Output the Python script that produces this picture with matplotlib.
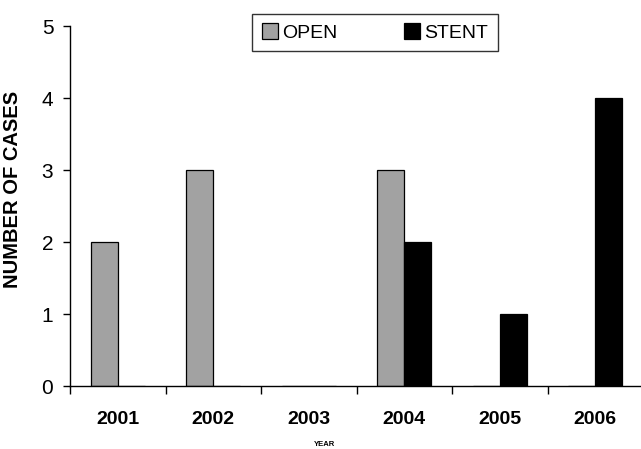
import numpy as np
import matplotlib.pyplot as plt

plt.rcParams['font.family'] = ['Liberation Sans', 'DejaVu Sans']

years = ['2001', '2002', '2003', '2004', '2005', '2006']
open_cases = [2, 3, 0, 3, 0, 0]
stent_cases = [0, 0, 0, 2, 1, 4]

fig = plt.figure(figsize=(6.41, 4.49), dpi=100)
# last category runs right up to the figure edge
ax = fig.add_axes([70 / 641, 63 / 449, 573 / 641, 360 / 449])

x = np.arange(len(years))
w = 0.285
ax.bar(x - w / 2, open_cases, w, color='#a2a2a2', edgecolor='black', linewidth=0.9, label='OPEN')
ax.bar(x + w / 2, stent_cases, w, color='black', edgecolor='black', linewidth=0.9, label='STENT')

ax.set_xlim(-0.5, len(years) - 0.5)
ax.set_ylim(0, 5)
ax.set_yticks(range(6))
ax.tick_params(axis='y', labelsize=15, length=5, width=1, pad=7)

ax.set_xticks(x)
ax.set_xticklabels(years, fontweight='bold', fontsize=14)
ax.set_xticks(np.arange(-0.5, len(years)), minor=True)
ax.tick_params(axis='x', which='major', length=0, pad=18)
ax.tick_params(axis='x', which='minor', length=6, width=1)

for side in ['top', 'right']:
    ax.spines[side].set_visible(False)
ax.spines['left'].set_linewidth(1)
ax.spines['bottom'].set_linewidth(1)

ax.set_ylabel('NUMBER OF CASES', fontweight='bold', fontsize=14.5)
ax.yaxis.set_label_coords(-0.084, 0.545)
fig.text(325 / 641, 1 - 445 / 449, 'YEAR', fontweight='bold', fontsize=5.5, ha='center', va='center')

leg = ax.legend(ncol=2, loc='center', bbox_to_anchor=(375 / 641, 1 - 32.5 / 449),
                bbox_transform=fig.transFigure, fontsize=14, frameon=True, fancybox=False,
                edgecolor='black', handlelength=0.85, handleheight=0.85, handletextpad=0.2,
                columnspacing=3.4, borderpad=0.5, borderaxespad=0)
leg.get_frame().set_linewidth(1)

fig.savefig('out.png', dpi=100)
